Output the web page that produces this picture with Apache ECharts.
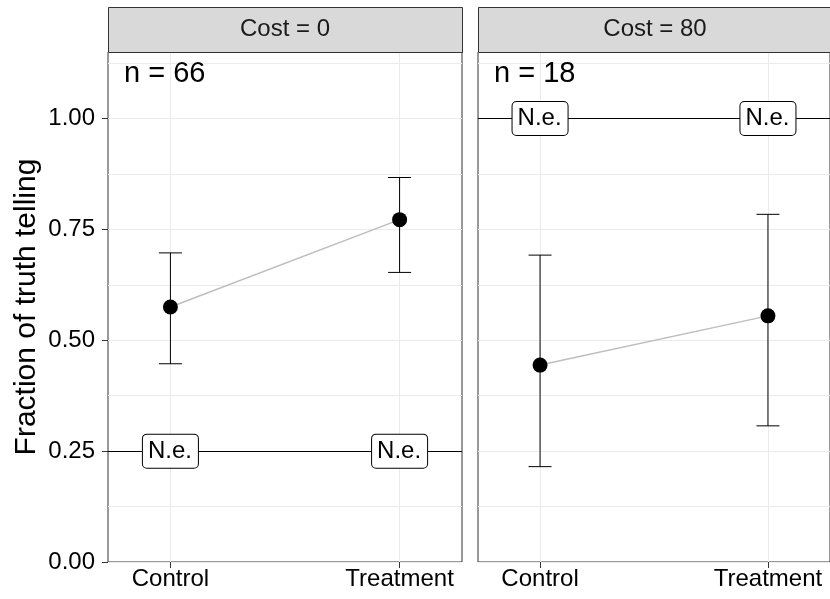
<!DOCTYPE html>
<html>
<head>
<meta charset="utf-8">
<script src="https://cdn.jsdelivr.net/npm/echarts@6/dist/echarts.min.js"></script>
<style>
html,body{margin:0;padding:0;background:#fff;}
#chart{width:830px;height:599px;}
</style>
</head>
<body>
<div id="chart"></div>
<script>
// ---- data ----
const categories = ['Control', 'Treatment'];
const panelTitles = ['Cost = 0', 'Cost = 80'];
const nLabels = ['n = 66', 'n = 18'];
const meanCost0 = [0.575, 0.772];
const lowCost0 = [0.447, 0.653];
const highCost0 = [0.697, 0.867];
const meanCost80 = [0.444, 0.555];
const lowCost80 = [0.215, 0.307];
const highCost80 = [0.692, 0.784];
const neLevels = [0.25, 1.00];
const neLabel = 'N.e.';
const yTickValues = [0, 0.25, 0.5, 0.75, 1.0];
const yTitle = 'Fraction of truth telling';

const FONT = 'Liberation Sans';
const means = [meanCost0, meanCost80];
const lows = [lowCost0, lowCost80];
const highs = [highCost0, highCost80];

const PAD = 0.2723;
const gridLeft = [108, 478];
const gridTop = 52, gridH = 510, gridW = 354;

const chart = echarts.init(document.getElementById('chart'), null, {renderer: 'canvas'});

const grids = [], xAxes = [], yAxes = [], series = [], graphics = [];

for (let p = 0; p < 2; p++) {
  grids.push({left: gridLeft[p], top: gridTop, width: gridW, height: gridH, show: true,
    borderColor: '#333', borderWidth: 1, backgroundColor: 'transparent', containLabel: false});
  xAxes.push({
    type: 'value', gridIndex: p, min: 1 - PAD, max: 2 + PAD,
    axisLine: {show: false},
    axisTick: {show: true, customValues: [1, 2], length: 6, lineStyle: {color: '#333'}},
    axisLabel: {show: true, customValues: [1, 2], color: '#000', fontFamily: FONT, fontSize: 24, margin: 5,
      formatter: v => categories[Math.round(v) - 1] || ''},
    splitLine: {show: true, lineStyle: {color: '#ebebeb', width: 1}}
  });
  // grid lines axis (minor + major)
  yAxes.push({
    type: 'value', gridIndex: p, min: 0, max: 1.15, interval: 0.125,
    axisLine: {show: false}, axisTick: {show: false}, axisLabel: {show: false},
    splitLine: {show: true, lineStyle: {color: '#ebebeb', width: 1}}
  });
  // ticks + labels axis
  yAxes.push({
    type: 'value', gridIndex: p, min: 0, max: 1.15, position: 'left',
    axisLine: {show: false},
    axisTick: {show: p === 0, customValues: yTickValues, length: 6, lineStyle: {color: '#333'}},
    axisLabel: {show: p === 0, customValues: yTickValues, color: '#000', fontFamily: FONT, fontSize: 24, margin: 13,
      formatter: v => v.toFixed(2)},
    splitLine: {show: false}
  });
  const yi = p * 2 + 1;
  // connecting line
  series.push({
    type: 'line', xAxisIndex: p, yAxisIndex: yi, z: 3,
    data: categories.map((c, i) => [i + 1, means[p][i]]),
    symbol: 'none', lineStyle: {color: '#bebebe', width: 1.5}, silent: true,
    markLine: {symbol: 'none', silent: true, label: {show: false},
      lineStyle: {color: '#000', width: 1, type: 'solid', opacity: 1},
      data: [{yAxis: neLevels[p]}]}
  });
  // error bars
  series.push({
    type: 'custom', xAxisIndex: p, yAxisIndex: yi, z: 4,
    data: categories.map((c, i) => [i + 1, lows[p][i], highs[p][i]]),
    renderItem: (params, api) => {
      const x = api.value(0);
      const a = api.coord([x, api.value(1)]);
      const b = api.coord([x, api.value(2)]);
      const hw = 11.5;
      const st = {stroke: '#000', lineWidth: 1};
      return {type: 'group', children: [
        {type: 'line', shape: {x1: a[0], y1: a[1], x2: b[0], y2: b[1]}, style: st},
        {type: 'line', shape: {x1: a[0] - hw, y1: a[1], x2: a[0] + hw, y2: a[1]}, style: st},
        {type: 'line', shape: {x1: b[0] - hw, y1: b[1], x2: b[0] + hw, y2: b[1]}, style: st}
      ]};
    }
  });
  // points
  series.push({
    type: 'scatter', xAxisIndex: p, yAxisIndex: yi, z: 5,
    data: categories.map((c, i) => [i + 1, means[p][i]]),
    symbol: 'circle', symbolSize: 15, itemStyle: {color: '#000', opacity: 1}
  });
  // N.e. labels
  series.push({
    type: 'scatter', xAxisIndex: p, yAxisIndex: yi, z: 6,
    data: categories.map((c, i) => [i + 1, neLevels[p]]),
    symbol: 'rect', symbolSize: 1, itemStyle: {color: 'rgba(0,0,0,0)', opacity: 1},
    label: {show: true, position: 'inside', formatter: neLabel, color: '#000', opacity: 1,
      fontFamily: FONT, fontSize: 24, backgroundColor: '#fff', borderColor: '#000',
      borderWidth: 1, borderRadius: 4, padding: [4, 6, 3, 5], lineHeight: 26}
  });
  // strip
  graphics.push({type: 'rect', left: gridLeft[p], top: 7, z: 10,
    shape: {width: gridW, height: gridTop - 7}, style: {fill: '#d9d9d9', stroke: '#333', lineWidth: 1}});
  graphics.push({type: 'text', z: 11, x: gridLeft[p] + gridW / 2, y: 7 + (gridTop - 7) / 2,
    style: {text: panelTitles[p], fill: '#1a1a1a', font: '24px "' + FONT + '"', textAlign: 'center', textVerticalAlign: 'middle'}});
  graphics.push({type: 'text', z: 11, x: gridLeft[p] + 16, y: 74,
    style: {text: nLabels[p], fill: '#000', font: '29px "' + FONT + '"', textAlign: 'left', textVerticalAlign: 'middle'}});
}

graphics.push({type: 'text', z: 11, x: 27, y: 307, rotation: Math.PI / 2,
  style: {text: yTitle, fill: '#000', font: '30px "' + FONT + '"', textAlign: 'center', textVerticalAlign: 'middle'}});

chart.setOption({
  animation: false,
  backgroundColor: '#fff',
  grid: grids, xAxis: xAxes, yAxis: yAxes, series: series, graphic: graphics
});
</script>
</body>
</html>
